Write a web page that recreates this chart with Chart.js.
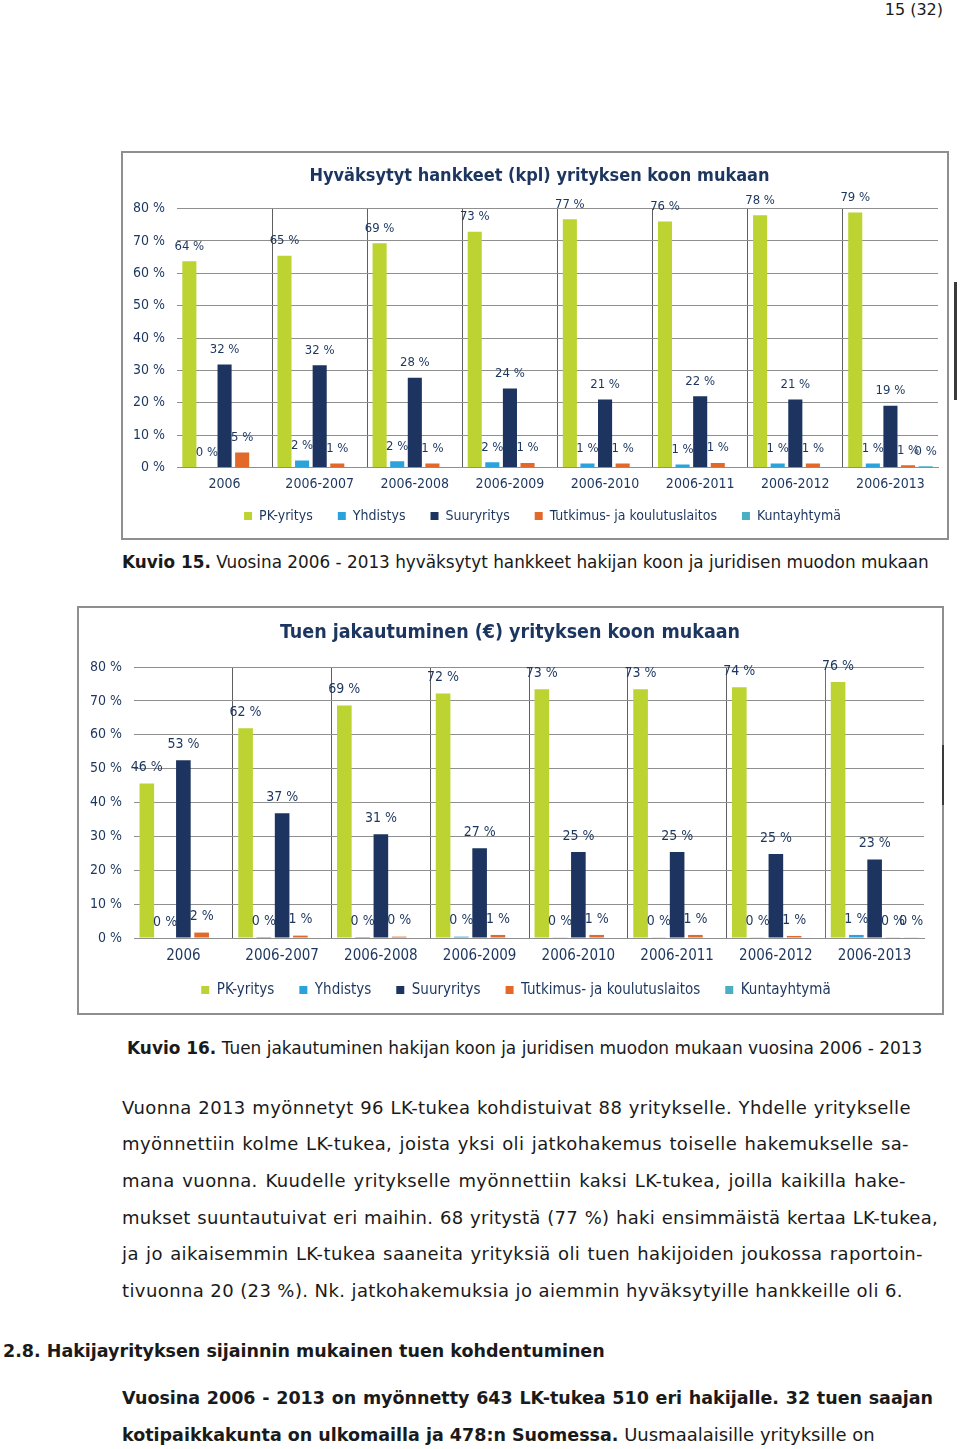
<!DOCTYPE html>
<html>
<head>
<meta charset="utf-8">
<script src="https://cdn.jsdelivr.net/npm/chart.js@4.4.0/dist/chart.umd.min.js"></script>
<style>
  body { margin: 0; width: 960px; height: 1449px; position: relative; overflow: hidden; background: #fff;
         font-family: "DejaVu Sans", sans-serif; color: #1a1a1a; }
  .t { position: absolute; white-space: nowrap; line-height: 20px; }
  .body { font-size: 18px; letter-spacing: 0.4px; }
  .j { text-align: justify; text-align-last: justify; }
  .bd { font-size: 17.5px; font-weight: bold; }
  .box { position: absolute; border: 2px solid #8f8f8f; box-sizing: border-box; background: #fff; }
  .box div { position: relative; width: 100%; height: 100%; }
  .mark { position: absolute; background: #3a3a3a; }
</style>
</head>
<body>

<div class="t" style="right:17px;top:0;font-size:16px;">15 (32)</div>

<div class="box" style="left:121px;top:151px;width:828px;height:389px;"><div><canvas id="c1"></canvas></div></div>
<div class="mark" style="left:954px;top:282px;width:3px;height:118px;"></div>

<div class="t" style="left:122px;top:552px;font-size:16.85px;"><b>Kuvio 15.</b> Vuosina 2006 - 2013 hyväksytyt hankkeet hakijan koon ja juridisen muodon mukaan</div>

<div class="box" style="left:77px;top:606px;width:867px;height:409px;"><div><canvas id="c2"></canvas></div></div>
<div class="mark" style="left:942px;top:745px;width:2px;height:60px;"></div>

<div class="t" style="left:127px;top:1038px;font-size:16.95px;"><b>Kuvio 16.</b> Tuen jakautuminen hakijan koon ja juridisen muodon mukaan vuosina 2006 - 2013</div>

<div class="t body j" style="left:122px;top:1098px;width:789px;">Vuonna 2013 myönnetyt 96 LK-tukea kohdistuivat 88 yritykselle. Yhdelle yritykselle</div>
<div class="t body j" style="left:122px;top:1134px;width:787px;">myönnettiin kolme LK-tukea, joista yksi oli jatkohakemus toiselle hakemukselle sa-</div>
<div class="t body j" style="left:122px;top:1171px;width:784px;">mana vuonna. Kuudelle yritykselle myönnettiin kaksi LK-tukea, joilla kaikilla hake-</div>
<div class="t body j" style="left:122px;top:1208px;width:816px;letter-spacing:0.3px;">mukset suuntautuivat eri maihin. 68 yritystä (77 %) haki ensimmäistä kertaa LK-tukea,</div>
<div class="t body j" style="left:122px;top:1244px;width:801px;">ja jo aikaisemmin LK-tukea saaneita yrityksiä oli tuen hakijoiden joukossa raportoin-</div>
<div class="t body" style="left:122px;top:1281px;">tivuonna 20 (23 %). Nk. jatkohakemuksia jo aiemmin hyväksytyille hankkeille oli 6.</div>

<div class="t" style="left:3px;top:1341px;font-size:17.5px;font-weight:bold;">2.8. Hakijayrityksen sijainnin mukainen tuen kohdentuminen</div>

<div class="t j bd" style="left:122px;top:1388px;width:811px;">Vuosina 2006 - 2013 on myönnetty 643 LK-tukea 510 eri hakijalle. 32 tuen saajan</div>
<div class="t" style="left:122px;top:1425px;font-size:18px;"><b style="font-size:17.5px;">kotipaikkakunta on ulkomailla ja 478:n Suomessa.</b> Uusmaalaisille yrityksille on</div>

<script>
// periods on the x axis (same for both charts)
const periods = ['2006', '2006-2007', '2006-2008', '2006-2009', '2006-2010', '2006-2011', '2006-2012', '2006-2013'];
const seriesNames = ['PK-yritys', 'Yhdistys', 'Suuryritys', 'Tutkimus- ja koulutuslaitos', 'Kuntayhtymä'];
const yTicks = [0, 10, 20, 30, 40, 50, 60, 70, 80];

// Kuvio 15: hyväksytyt hankkeet (kpl), share in %
const projPk = [63.7, 65.4, 69.3, 72.8, 76.7, 76.0, 77.9, 78.8];
const projYhdistys = [0, 2.2, 1.9, 1.6, 1.2, 0.9, 1.2, 1.2];
const projSuur = [31.8, 31.6, 27.7, 24.4, 21.0, 22.0, 21.0, 19.1];
const projTutkimus = [4.6, 1.2, 1.2, 1.4, 1.2, 1.4, 1.2, 0.7];
const projKunta = [null, null, null, null, null, null, null, 0.4];

// Kuvio 16: tuen jakautuminen (€), share in %
const aidPk = [45.6, 61.9, 68.6, 72.2, 73.4, 73.4, 74.0, 75.6];
const aidYhdistys = [0, 0.3, 0.3, 0.4, 0.2, 0.2, 0.2, 0.9];
const aidSuur = [52.5, 36.8, 30.6, 26.5, 25.4, 25.4, 24.8, 23.2];
const aidTutkimus = [1.6, 0.7, 0.4, 0.9, 0.9, 0.9, 0.6, 0.2];
const aidKunta = [null, null, null, null, null, null, null, 0.2];

const FONT = '"DejaVu Sans Condensed", "DejaVu Sans", sans-serif';
const NAVY = '#1c365f';
const colors = ['#bcd332', '#2aa3dc', '#1c345f', '#e2692a', '#4aaec5'];

Chart.defaults.font.family = FONT;
Chart.defaults.animation = false;

// value label above every bar
const valueLabels = {
  id: 'valueLabels',
  afterDatasetsDraw(chart, args, opts) {
    const ctx = chart.ctx;
    ctx.save();
    ctx.font = opts.size + 'px ' + FONT;
    ctx.fillStyle = NAVY;
    ctx.textAlign = 'center';
    ctx.textBaseline = 'middle';
    chart.data.datasets.forEach((ds, i) => {
      const meta = chart.getDatasetMeta(i);
      meta.data.forEach((bar, j) => {
        const v = ds.data[j];
        if (v === null) return;
        ctx.fillText(Math.round(v) + ' %', bar.x, bar.y - opts.offset);
      });
    });
    ctx.restore();
  }
};

// nudge title and legend to where the original had them
const shiftBoxes = {
  id: 'shiftBoxes',
  afterLayout(chart, args, o) {
    const t = chart.titleBlock, l = chart.legend;
    t.left += o.titleDx; t.right += o.titleDx;
    l.left += o.legendDx; l.right += o.legendDx;
    l.top += o.legendDy; l.bottom += o.legendDy;
  }
};

function makeChart(id, title, values, cfg) {
  const datasets = values.map((d, i) => ({
    label: seriesNames[i],
    data: d,
    backgroundColor: colors[i],
    borderWidth: 0,
    barPercentage: 0.8,
    categoryPercentage: 0.925
  }));
  return new Chart(document.getElementById(id), {
    type: 'bar',
    data: { labels: periods, datasets: datasets },
    plugins: [valueLabels, shiftBoxes],
    options: {
      responsive: true,
      maintainAspectRatio: false,
      layout: { padding: cfg.padding },
      plugins: {
        title: {
          display: true,
          text: title,
          color: NAVY,
          font: { size: cfg.titleSize, weight: 'bold' },
          padding: cfg.titlePad
        },
        legend: {
          position: 'bottom',
          labels: { boxWidth: 8, boxHeight: 8, padding: 25, color: NAVY, font: { size: cfg.legendSize } }
        },
        tooltip: { enabled: false },
        valueLabels: { size: cfg.labelSize, offset: cfg.labelOffset },
        shiftBoxes: cfg.shift
      },
      scales: {
        x: {
          grid: {
            offset: true,
            drawTicks: false,
            color: c => (c.index === undefined || c.index === 0) ? 'rgba(0,0,0,0)' : (c.index === cfg.blueLine ? '#3d7daa' : '#5f5f5f')
          },
          border: { display: true, color: '#8f8f8f' },
          ticks: { color: NAVY, font: { size: cfg.xSize }, padding: cfg.xPad },
          afterFit: s => { s.height = cfg.xHeight; }
        },
        y: {
          min: 0,
          max: 80,
          grid: { drawTicks: false, color: '#8f8f8f' },
          border: { display: false },
          afterBuildTicks: s => { s.ticks = yTicks.map(v => ({ value: v })); },
          ticks: { padding: 12, color: NAVY, font: { size: 14 }, callback: v => v + ' %' },
          afterFit: s => { s.width = cfg.yWidth; }
        }
      }
    }
  });
}

makeChart('c1', 'Hyväksytyt hankkeet (kpl) yrityksen koon mukaan',
  [projPk, projYhdistys, projSuur, projTutkimus, projKunta], {
    padding: { left: 0, right: 9, top: 0, bottom: -5.5 },
    titleSize: 18, titlePad: { top: 12.2, bottom: 21.7 },
    legendSize: 14, labelSize: 13, labelOffset: 15,
    xSize: 14, xPad: 8, xHeight: 27, yWidth: 54, blueLine: -1,
    shift: { titleDx: 9, legendDx: 12, legendDy: -10.5 }
  });

makeChart('c2', 'Tuen jakautuminen (€) yrityksen koon mukaan',
  [aidPk, aidYhdistys, aidSuur, aidTutkimus, aidKunta], {
    padding: { left: 0, right: 18, top: 0, bottom: -4 },
    titleSize: 19.5, titlePad: { top: 13.3, bottom: 22.3 },
    legendSize: 15, labelSize: 14, labelOffset: 16,
    xSize: 15, xPad: 9, xHeight: 29, yWidth: 55, blueLine: 7,
    shift: { titleDx: 8.5, legendDx: 14.5, legendDy: -9.5 }
  });
</script>
</body>
</html>
